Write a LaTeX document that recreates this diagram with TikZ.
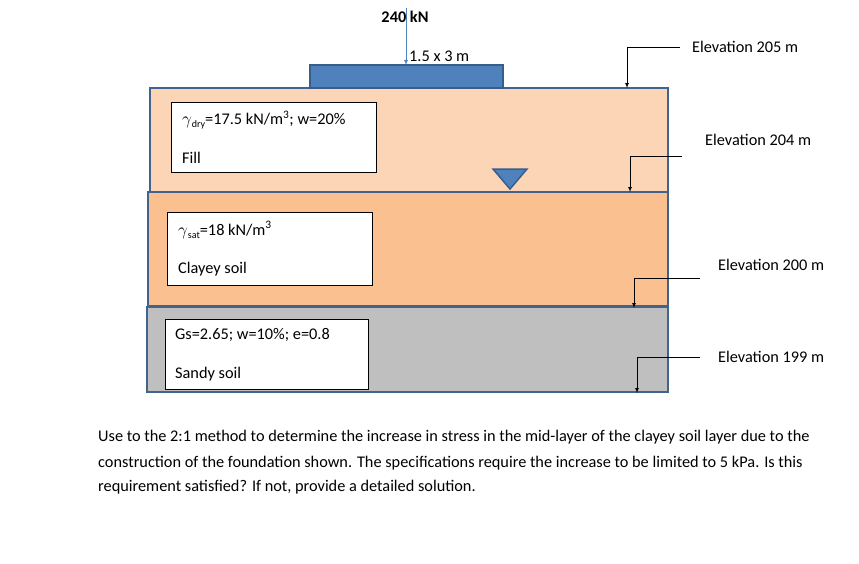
\documentclass[tikz,border=0pt]{standalone}
\usepackage{fontspec}
\setmainfont{Carlito}
\begin{document}
\begin{tikzpicture}[x=1pt,y=-1pt,
 layer/.style={draw=lyr,line width=2.2pt},
 info/.style={draw=black,fill=white,line width=0.8pt},
 lbl/.style={anchor=west,inner sep=0pt,font=\fontsize{16.3}{19}\selectfont},
 elev/.style={draw=black,line width=0.7pt,-{latex}},
 font=\fontsize{16.3}{19}\selectfont]
\definecolor{lyr}{HTML}{41648F}
\definecolor{fillc}{HTML}{FBD5B5}
\definecolor{clayc}{HTML}{FAC090}
\definecolor{sandc}{HTML}{BFBFBF}
\definecolor{foot}{HTML}{4F81BD}
\definecolor{footd}{HTML}{385D8A}
\useasboundingbox (0,0) rectangle (859,563);
\fill[white] (0,0) rectangle (859,563);
\draw[layer,fill=fillc] (150,88) rectangle (668,192);
\draw[layer,fill=clayc] (148,192) rectangle (668,306);
\draw[layer,fill=sandc] (147,307) rectangle (668,392);
\draw[draw=footd,fill=foot,line width=2pt] (310,65) rectangle (503,88);
\coordinate (ltop) at (406,8);
\coordinate (lbot) at (406,65);
\draw[foot,line width=0.8pt,-{latex}] (ltop) -- (lbot);
\node[font=\bfseries\fontsize{16.3}{19}\selectfont] (load) at (405,17) {240 kN};
\node[lbl] (dim) at (409,56) {1.5 x 3 m};
\draw[draw=footd,fill=foot,line width=1.5pt] (493,169) -- (527,169) -- (510,189) -- cycle;
\node[info,minimum width=205pt,minimum height=70pt,anchor=north west] (b1) at (171,102) {};
\node[lbl] at (182,120) {$\gamma$\raisebox{-0.4ex}{\fontsize{10}{12}\selectfont dry}=17.5 kN/m\textsuperscript{3}; w=20\%};
\node[lbl] at (182,158) {Fill};
\node[info,minimum width=205pt,minimum height=73pt,anchor=north west] (b2) at (167,212) {};
\node[lbl] at (178,230) {$\gamma$\raisebox{-0.4ex}{\fontsize{10}{12}\selectfont sat}=18 kN/m\textsuperscript{3}};
\node[lbl] at (178,269) {Clayey soil};
\node[info,minimum width=203pt,minimum height=70pt,anchor=north west] (b3) at (165,319) {};
\node[lbl] at (175,335) {Gs=2.65; w=10\%; e=0.8};
\node[lbl] at (175,374) {Sandy soil};
\node[lbl] (e1) at (692,47) {Elevation 205 m};
\node[lbl] (e2) at (705,140) {Elevation 204 m};
\node[lbl] (e3) at (718,265) {Elevation 200 m};
\node[lbl] (e4) at (718,357) {Elevation 199 m};
\coordinate (a1) at (680,47); \coordinate (t1) at (627,88);
\coordinate (a2) at (682,156); \coordinate (t2) at (630,192);
\coordinate (a3) at (700,278); \coordinate (t3) at (634,308);
\coordinate (a4) at (700,357); \coordinate (t4) at (637,393);
\draw[elev] (a1) -| (t1);
\draw[elev] (a2) -| (t2);
\draw[elev] (a3) -| (t3);
\draw[elev] (a4) -| (t4);
\node[lbl] at (98,437) {Use to the 2:1 method to determine the increase in stress in the mid-layer of the clayey soil layer due to the};
\node[lbl] at (98,463) {construction of the foundation shown. The specifications require the increase to be limited to 5 kPa. Is this};
\node[lbl] at (98,487) {requirement satisfied? If not, provide a detailed solution.};
\end{tikzpicture}
\end{document}
